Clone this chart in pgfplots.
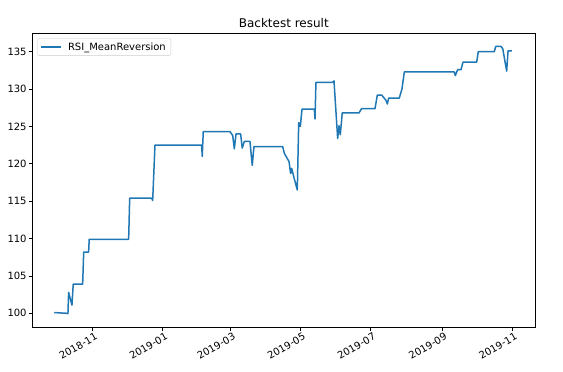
\documentclass[border=0pt]{standalone}
\usepackage{fontspec}
\setmainfont{DejaVu Sans}
\usepackage{pgfplots}
\pgfplotsset{compat=1.18}
\definecolor{mplblue}{HTML}{1F77B4}
\begin{document}
\begin{tikzpicture}
\path[use as bounding box] (-32.3pt,-44.7pt) rectangle (530.7pt,327.3pt);
\begin{axis}[
  at={(0,0)}, anchor=south west,
  scale only axis, width=503pt, height=294pt,
  xmin=-52.5, xmax=385.0, ymin=98.13, ymax=137.46,
  xtick={0,61,120,181,242,304,365},
  xticklabels={2018-11,2019-01,2019-03,2019-05,2019-07,2019-09,2019-11},
  ytick={100,105,110,115,120,125,130,135},
  xtick pos=bottom, ytick pos=left,
  tick align=outside, major tick length=3.5pt,
  every tick/.style={black, line width=0.8pt},
  axis line style={line width=0.8pt},
  /pgf/number format/assume math mode=true,
  ticklabel style={font=\fontsize{10}{12}\selectfont},
  xticklabel style={rotate=30, anchor=north east, inner sep=1pt, yshift=-1pt, xshift=2pt},
  yticklabel style={inner sep=2pt},
  title={Backtest result},
  title style={font=\fontsize{12}{14}\selectfont, yshift=-4pt},
  legend style={at={(0,1)}, anchor=north west, xshift=5pt, yshift=-5pt,
    draw=black!20, rounded corners=2pt, font=\fontsize{10}{12}\selectfont,
    inner xsep=3pt, inner ysep=2pt},
  legend cell align=left,
  legend image code/.code={\draw[#1, line width=1.6pt] (0pt,0pt) -- (20pt,0pt); \path (24pt,0pt);},
]
\addplot[mplblue, line width=1.5pt, line join=round] coordinates {
(-33.4,100.1) (-22.1,100.0) (-21.5,99.95) (-20.9,102.8) (-18.0,101.1) (-16.9,103.9)
(-8.7,103.9) (-7.8,108.2) (-3.5,108.2) (-3.0,109.9) (31.3,109.9) (32.2,115.4)
(51.3,115.4) (52.2,115.1) (54.2,122.5) (94.8,122.5) (95.3,121.0) (96.2,124.3)
(119.4,124.3) (121.8,123.8) (123.2,122.0) (124.7,124.0) (128.7,124.0) (130.1,122.1)
(131.9,123.0) (136.8,123.0) (138.8,119.8) (140.3,122.3) (165.3,122.3) (166.7,121.4)
(170.8,120.3) (172.2,118.7) (173.1,119.4) (174.5,118.5) (178.0,116.5) (179.2,125.5)
(180.6,125.0) (182.1,127.3) (192.8,127.3) (193.4,126.0) (194.2,130.9) (208.8,130.9)
(209.9,131.1) (213.1,123.4) (214.3,125.1) (215.4,123.9) (217.1,126.8) (231.6,126.8)
(234.0,127.4) (245.6,127.4) (247.6,129.2) (251.4,129.2) (255.1,128.5) (256.3,128.0)
(257.5,128.8) (266.7,128.8) (269.0,130.0) (271.1,132.3) (314.5,132.3) (315.4,131.8)
(317.5,132.6) (320.4,132.6) (322.1,133.6) (334.0,133.6) (335.4,135.0) (349.3,135.0)
(350.6,135.7) (355.2,135.7) (356.7,135.4) (360.1,132.4) (361.3,135.1) (364.7,135.1)
};
\addlegendentry{RSI\_MeanReversion}
\end{axis}
\end{tikzpicture}
\end{document}
